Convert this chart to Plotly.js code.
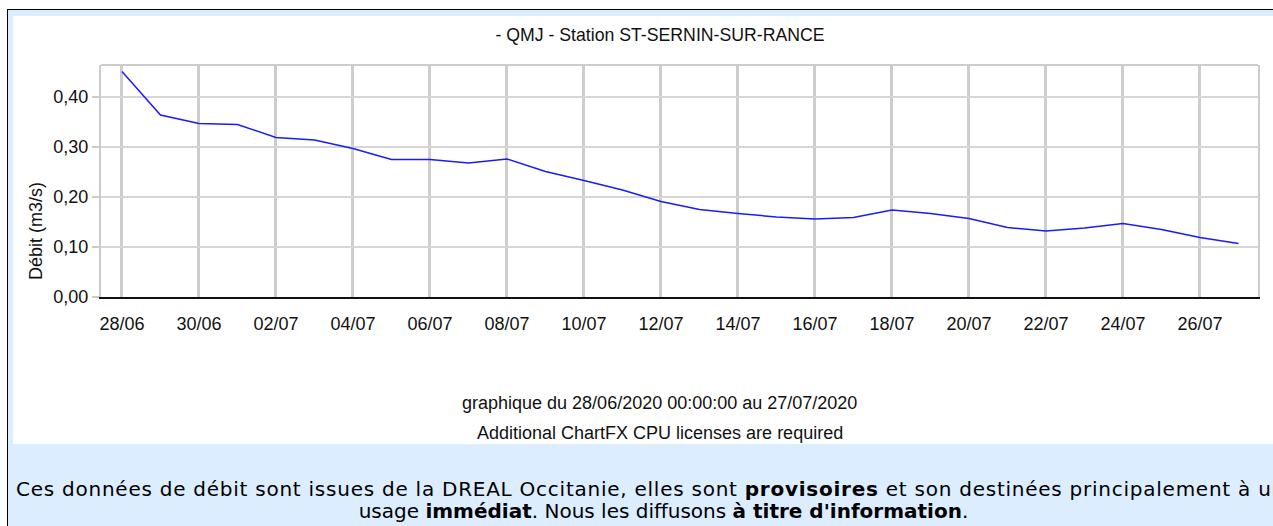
<!DOCTYPE html>
<html>
<head>
<meta charset="utf-8">
<script src="https://cdn.plot.ly/plotly-3.0.1.min.js"></script>
<style>
  html, body { margin: 0; padding: 0; width: 1273px; height: 526px; overflow: hidden; background: #ffffff; }
  #frame { position: absolute; left: 7px; top: 9px; width: 1300px; height: 560px;
           border-left: 1px solid #000; border-top: 1px solid #000; background: #dcedff; }
  #chart { position: absolute; left: 13px; top: 16px; width: 1260px; height: 428px; background: #ffffff; }
  .foot { position: absolute; font-family: Verdana, "DejaVu Sans", sans-serif; font-size: 20px;
          line-height: 22px; color: #000; white-space: nowrap; }
  #foot1 { left: 16px; top: 478px; letter-spacing: 0.75px; }
  #foot2 { left: 8px; top: 500px; width: 1311px; text-align: center; }
</style>
</head>
<body>
<div id="frame"></div>
<div id="chart"></div>
<div class="foot" id="foot1">Ces données de débit sont issues de la DREAL Occitanie, elles sont <b>provisoires</b> et son destinées principalement à un</div>
<div class="foot" id="foot2">usage <b>immédiat</b>. Nous les diffusons <b>à titre d'information</b>.</div>
<script>
// Daily mean flow (QMJ), m3/s
const dates = [
  "2020-06-28","2020-06-29","2020-06-30","2020-07-01","2020-07-02","2020-07-03",
  "2020-07-04","2020-07-05","2020-07-06","2020-07-07","2020-07-08","2020-07-09",
  "2020-07-10","2020-07-11","2020-07-12","2020-07-13","2020-07-14","2020-07-15",
  "2020-07-16","2020-07-17","2020-07-18","2020-07-19","2020-07-20","2020-07-21",
  "2020-07-22","2020-07-23","2020-07-24","2020-07-25","2020-07-26","2020-07-27"
];
const debit = [
  0.451, 0.364, 0.347, 0.345, 0.319, 0.314,
  0.297, 0.275, 0.275, 0.268, 0.276, 0.251,
  0.233, 0.214, 0.191, 0.175, 0.167, 0.160,
  0.156, 0.159, 0.174, 0.167, 0.157, 0.139,
  0.132, 0.138, 0.147, 0.135, 0.119, 0.107
];
const yTicks = [0, 0.1, 0.2, 0.3, 0.4];
const titleText = "- QMJ - Station ST-SERNIN-SUR-RANCE";
const yTitleText = "Débit (m3/s)";
const periodText = "graphique du 28/06/2020 00:00:00 au 27/07/2020";
const licenseText = "Additional ChartFX CPU licenses are required";

const FONT = "Arial, 'Liberation Sans', sans-serif";

const trace = {
  x: dates, y: debit, type: "scatter", mode: "lines",
  line: { color: "#1a1aff", width: 1.5 },
  hoverinfo: "skip", showlegend: false
};

const layout = {
  width: 1260, height: 428,
  margin: { l: 88, r: 15, t: 49, b: 147, pad: 0 },
  paper_bgcolor: "#ffffff", plot_bgcolor: "#ffffff",
  separators: ", ",
  font: { family: FONT, size: 18, color: "#111111" },
  title: {
    text: titleText, font: { family: FONT, size: 17.7, color: "#111111" },
    x: 0.5135, xref: "container", xanchor: "center",
    y: 0.9556, yref: "container", yanchor: "middle"
  },
  xaxis: {
    type: "date",
    range: ["2020-06-27 10:55", "2020-07-27 12:10"],
    tick0: "2020-06-28", dtick: 2 * 86400000,
    tickformat: "%d/%m",
    ticks: "outside", ticklen: 9, tickcolor: "rgba(0,0,0,0)",
    showgrid: true, gridcolor: "#cdcdcd", gridwidth: 3,
    showline: true, linecolor: "#111111", linewidth: 2,
    zeroline: false, fixedrange: true,
    tickfont: { family: FONT, size: 18, color: "#111111" }
  },
  yaxis: {
    range: [0, 0.464],
    tickvals: yTicks, tickformat: ".2f",
    ticks: "outside", ticklen: 7, tickwidth: 2, tickcolor: "#cccccc",
    showgrid: true, gridcolor: "#d6d6d6", gridwidth: 2,
    showline: true, linecolor: "#cccccc", linewidth: 2, mirror: true,
    zeroline: false, fixedrange: true,
    tickfont: { family: FONT, size: 18, color: "#111111" }
  },
  shapes: [
    { type: "line", xref: "paper", yref: "paper", x0: 0, x1: 1, y0: 1, y1: 1,
      line: { color: "#cccccc", width: 2 } }
  ],
  annotations: [
    { text: yTitleText, xref: "paper", yref: "paper", x: -0.0562, y: 0.2845,
      xanchor: "center", yanchor: "middle", textangle: -90, showarrow: false,
      font: { family: FONT, size: 18, color: "#111111" } },
    { text: periodText, xref: "paper", yref: "paper", x: 0.4831, y: -0.4569,
      xanchor: "center", yanchor: "middle", showarrow: false,
      font: { family: FONT, size: 18, color: "#111111" } },
    { text: licenseText, xref: "paper", yref: "paper", x: 0.4831, y: -0.586,
      xanchor: "center", yanchor: "middle", showarrow: false,
      font: { family: FONT, size: 18, color: "#111111" } }
  ]
};

Plotly.newPlot("chart", [trace], layout, { displayModeBar: false, staticPlot: true });
</script>
</body>
</html>
